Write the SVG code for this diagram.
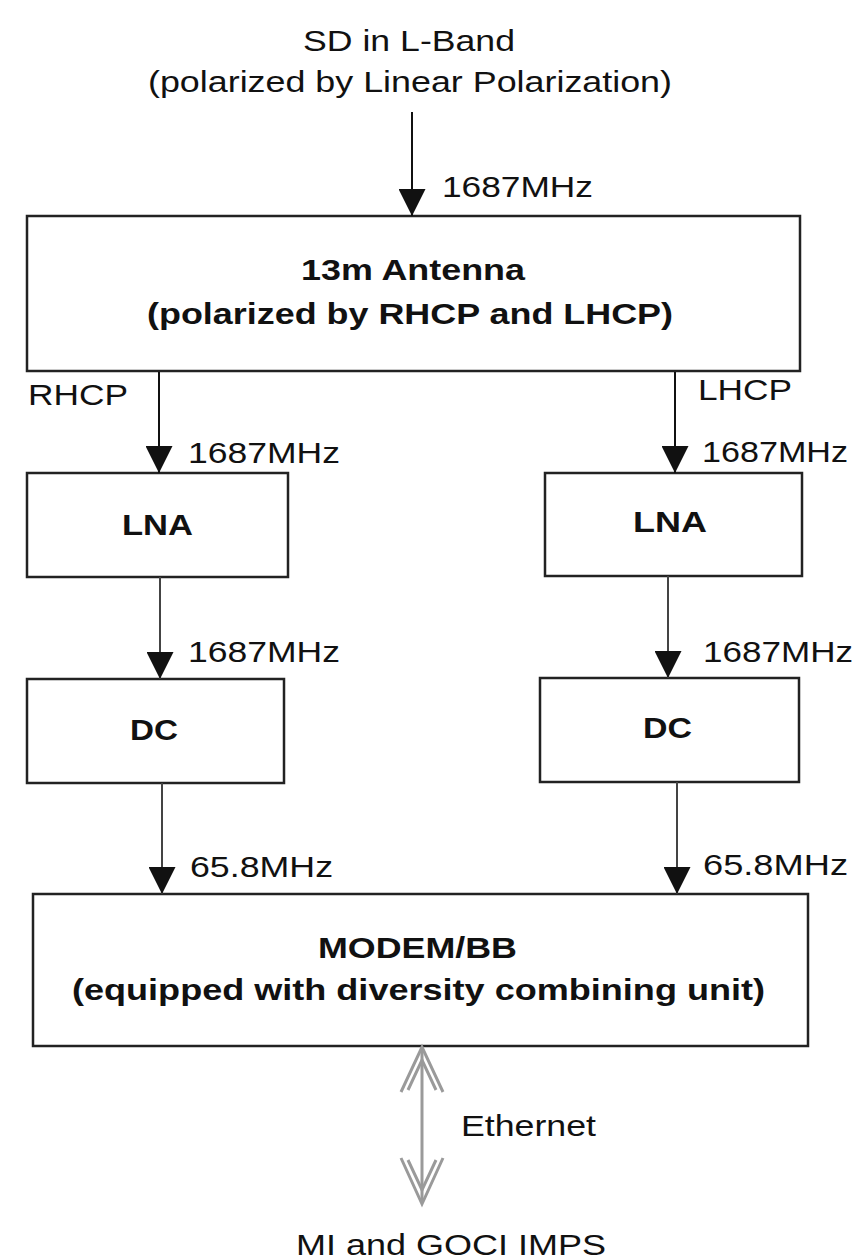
<svg xmlns="http://www.w3.org/2000/svg" width="861" height="1259" viewBox="0 0 861 1259">
<style>
text{font-family:"Liberation Sans",Arial,sans-serif;font-size:29px;fill:#111}
.b{font-weight:bold}
.box{fill:#fff;stroke:#222;stroke-width:2.5}
.c{stroke:#111;stroke-width:2;fill:none}
.g{stroke:#444;stroke-width:2;fill:none}
.eth{stroke:#9a9a9a;stroke-width:3;fill:none}
</style>
<defs>
<marker id="ah" markerUnits="userSpaceOnUse" viewBox="0 0 28 28" refX="28" refY="14" markerWidth="28" markerHeight="27" orient="auto">
<path d="M0,0 L28,14 L0,28 z" fill="#111"/>
</marker>
</defs>
<rect width="861" height="1259" fill="#fff"/>

<g id="source">
<text x="303" y="51" textLength="212" lengthAdjust="spacingAndGlyphs">SD in L-Band</text>
<text x="148" y="92" textLength="524" lengthAdjust="spacingAndGlyphs">(polarized by Linear Polarization)</text>
</g>

<g id="antenna">
<rect class="box" x="27" y="216" width="773" height="155"/>
<text class="b" x="301" y="280" textLength="224" lengthAdjust="spacingAndGlyphs">13m Antenna</text>
<text class="b" x="147" y="324" textLength="526" lengthAdjust="spacingAndGlyphs">(polarized by RHCP and LHCP)</text>
</g>

<g id="lna-left">
<rect class="box" x="27" y="473" width="261" height="104"/>
<text class="b" x="122" y="535" textLength="71" lengthAdjust="spacingAndGlyphs">LNA</text>
</g>
<g id="lna-right">
<rect class="box" x="545" y="473" width="257" height="103"/>
<text class="b" x="633" y="532" textLength="74" lengthAdjust="spacingAndGlyphs">LNA</text>
</g>
<g id="dc-left">
<rect class="box" x="27" y="679" width="257" height="104"/>
<text class="b" x="130" y="740" textLength="48" lengthAdjust="spacingAndGlyphs">DC</text>
</g>
<g id="dc-right">
<rect class="box" x="540" y="678" width="259" height="104"/>
<text class="b" x="643" y="738" textLength="49" lengthAdjust="spacingAndGlyphs">DC</text>
</g>
<g id="modem">
<rect class="box" x="33" y="894" width="775" height="152"/>
<text class="b" x="318" y="958" textLength="199" lengthAdjust="spacingAndGlyphs">MODEM/BB</text>
<text class="b" x="72" y="1000" textLength="693" lengthAdjust="spacingAndGlyphs">(equipped with diversity combining unit)</text>
</g>
<g id="sink">
<text x="296" y="1255" textLength="310" lengthAdjust="spacingAndGlyphs">MI and GOCI IMPS</text>
</g>

<g id="connectors">
<line class="c" x1="412" y1="112" x2="412" y2="216" marker-end="url(#ah)"/>
<line class="c" x1="159" y1="372" x2="159" y2="473" marker-end="url(#ah)"/>
<line class="c" x1="675" y1="372" x2="675" y2="473" marker-end="url(#ah)"/>
<line class="g" x1="160" y1="577" x2="160" y2="679" marker-end="url(#ah)"/>
<line class="g" x1="668" y1="576" x2="668" y2="678" marker-end="url(#ah)"/>
<line class="g" x1="162" y1="783" x2="162" y2="894" marker-end="url(#ah)"/>
<line class="g" x1="677" y1="782" x2="677" y2="894" marker-end="url(#ah)"/>
<line class="eth" x1="422" y1="1047" x2="422" y2="1203"/>
<path class="eth" d="M401,1092 L422,1047 L443,1092 M408,1090 L422,1060 L436,1090"/>
<path class="eth" d="M401,1158 L422,1204 L443,1158 M408,1160 L422,1190 L436,1160"/>
<text x="442" y="197" textLength="151" lengthAdjust="spacingAndGlyphs">1687MHz</text>
<text x="28" y="405" textLength="100" lengthAdjust="spacingAndGlyphs">RHCP</text>
<text x="188" y="463" textLength="152" lengthAdjust="spacingAndGlyphs">1687MHz</text>
<text x="698" y="400" textLength="94" lengthAdjust="spacingAndGlyphs">LHCP</text>
<text x="702" y="462" textLength="146" lengthAdjust="spacingAndGlyphs">1687MHz</text>
<text x="188" y="662" textLength="152" lengthAdjust="spacingAndGlyphs">1687MHz</text>
<text x="703" y="662" textLength="150" lengthAdjust="spacingAndGlyphs">1687MHz</text>
<text x="190" y="877" textLength="143" lengthAdjust="spacingAndGlyphs">65.8MHz</text>
<text x="703" y="875" textLength="145" lengthAdjust="spacingAndGlyphs">65.8MHz</text>
<text x="461" y="1136" textLength="135" lengthAdjust="spacingAndGlyphs">Ethernet</text>
</g>
</svg>
